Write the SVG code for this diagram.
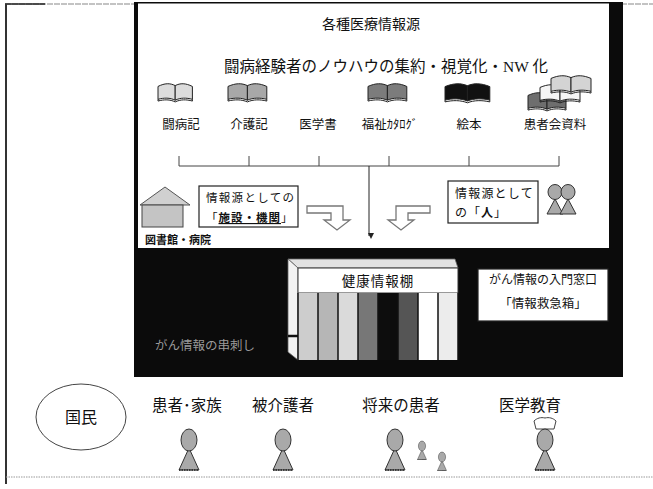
<svg xmlns="http://www.w3.org/2000/svg" width="653" height="489" viewBox="0 0 653 489">
  <style>
    .jp { font-family: "Noto Sans CJK JP", "Noto Sans", sans-serif; fill: #111; }
    .mix { font-family: "Liberation Serif", "Noto Sans CJK JP", serif; fill: #111; }
    .c { text-anchor: middle; }
    .box { fill: #fff; stroke: #222; stroke-width: 1.2; }
    .book { stroke: #222; stroke-width: 1; vector-effect: non-scaling-stroke; stroke-linejoin: round; }
    .conn { fill: none; stroke: #444; stroke-width: 1; }
    .hollow { fill: #fff; stroke: #777; stroke-width: 1.3; stroke-linejoin: miter; }
    .head { fill: #a9a9a9; stroke: #333; stroke-width: 1; }
    .body { fill: #a9a9a9; stroke: #333; stroke-width: 1; }
  </style>
  <defs>
    <!-- open book icon, 40 x 21 units -->
    <g id="openbook">
      <path class="book" d="M0,4 C8,0 14,0 20,3 L20,20 C14,17 7,17 0,19 Z"/>
      <path class="book" d="M20,3 C26,0 32,0 40,4 L40,19 C33,17 26,17 20,20 Z"/>
      <path class="book" fill="none" d="M0,19 L0,21 C7,19 14,19 20,22 C26,19 33,19 40,21 L40,19"/>
    </g>
    <!-- standing person: head over a triangle body -->
    <g id="person">
      <path class="body" d="M0,8 L-10,30 L10,30 Z"/>
      <line x1="-10" y1="30" x2="10" y2="30" stroke="#222" stroke-width="1.5" stroke-dasharray="1.5,1"/>
      <ellipse class="head" cx="0" cy="0" rx="8" ry="11"/>
    </g>
    <marker id="arrowDown" markerWidth="6" markerHeight="6" refX="3" refY="5" orient="auto-start-reverse" markerUnits="userSpaceOnUse" viewBox="0 0 6 6">
      <path d="M0,0 L6,3 L0,6 Z" fill="#222"/>
    </marker>
  </defs>

  <rect x="0" y="0" width="653" height="489" fill="#fff"/>

  <!-- outer frame -->
  <g id="frame">
    <line x1="5" y1="4" x2="653" y2="4" stroke="#888" stroke-width="1.2" stroke-dasharray="6,1"/>
    <line x1="5" y1="4" x2="45" y2="4" stroke="#222" stroke-width="1.5"/>
    <line x1="6" y1="4" x2="6" y2="484" stroke="#333" stroke-width="2"/>
    <line x1="6" y1="477" x2="653" y2="477" stroke="#999" stroke-width="1" stroke-dasharray="1.5,1"/>
  </g>

  <!-- dark panel with white upper section -->
  <g id="panel">
    <rect x="134" y="2" width="489" height="375" fill="#0b0b0b"/>
    <rect x="138" y="3.5" width="471" height="244.5" fill="#fff"/>
  </g>

  <!-- headings -->
  <g id="heading">
    <text class="jp c" x="371" y="29" font-size="14">各種医療情報源</text>
    <text class="mix c" x="386" y="72" font-size="15.5">闘病経験者のノウハウの集約・視覚化・NW 化</text>
  </g>

  <!-- information sources -->
  <g id="src-tobyoki">
    <use href="#openbook" transform="translate(158,83) scale(0.86,0.86)" fill="#dcdcdc"/>
    <text class="jp c" x="181" y="129" font-size="12.5">闘病記</text>
  </g>
  <g id="src-kaigoki">
    <use href="#openbook" transform="translate(228,83) scale(0.97,0.86)" fill="#a8a8a8"/>
    <text class="jp c" x="249" y="129" font-size="12.5">介護記</text>
  </g>
  <g id="src-igakusho">
    <text class="jp c" x="318" y="129" font-size="12.5">医学書</text>
  </g>
  <g id="src-catalog">
    <use href="#openbook" transform="translate(368,83) scale(0.97,0.86)" fill="#7c7c7c"/>
    <text class="jp c" x="390" y="129" font-size="12.5">福祉ｶﾀﾛｸﾞ</text>
  </g>
  <g id="src-ehon">
    <use href="#openbook" transform="translate(445,83) scale(1.12,0.9)" fill="#111"/>
    <text class="jp c" x="469" y="129" font-size="12.5">絵本</text>
  </g>
  <g id="src-kanjakai">
    <use href="#openbook" transform="translate(528,92) scale(0.95,0.86)" fill="#6e6e6e"/>
    <use href="#openbook" transform="translate(540,84) scale(1,0.86)" fill="#f4f4f4"/>
    <use href="#openbook" transform="translate(551,75) scale(1,0.86)" fill="#d4d4d4"/>
    <text class="jp c" x="555" y="129" font-size="12.5">患者会資料</text>
  </g>

  <!-- facility / library -->
  <g id="facility">
    <path d="M140,205 L165,187 L190,205 Z" fill="#d0d0d0" stroke="#555" stroke-width="1"/>
    <rect x="142" y="205" width="41" height="22" fill="#c4c4c4" stroke="#444" stroke-width="1"/>
    <text class="jp" x="145" y="244" font-size="11" font-weight="bold">図書館・病院</text>
  </g>
  <g id="box-facility">
    <rect class="box" x="199" y="186" width="99" height="41"/>
    <text class="jp" x="206" y="202" font-size="11.5" letter-spacing="1.3">情報源としての</text>
    <text class="jp" x="206" y="222" font-size="11.5" letter-spacing="1">「<tspan font-weight="bold" text-decoration="underline">施設・機関</tspan>」</text>
  </g>
  <g id="box-person">
    <rect class="box" x="448" y="181" width="90" height="42"/>
    <text class="jp" x="455" y="198" font-size="12" letter-spacing="1.2">情報源として</text>
    <text class="jp" x="455" y="217" font-size="12" letter-spacing="1">の「<tspan font-weight="bold">人</tspan>」</text>
  </g>
  <g id="people-pair">
    <path class="body" d="M555,199 L547,214 L563,214 Z"/>
    <path class="body" d="M568,199 L560,214 L576,214 Z"/>
    <ellipse class="head" cx="555" cy="192" rx="7" ry="7.5"/>
    <ellipse class="head" cx="568" cy="192" rx="7" ry="7.5"/>
  </g>

  <!-- connectors -->
  <g id="connectors">
    <path class="conn" d="M179,156 V166 H559 V156 M249,156 V166 M319,156 V166 M389,156 V166 M469,156 V166"/>
    <line x1="369" y1="166" x2="369" y2="236" stroke="#222" stroke-width="1" marker-end="url(#arrowDown)"/>
    <path class="hollow" d="M307,206 H343 V220 H350 L337,230 L324,220 H331 V213 H307 Z"/>
    <path class="hollow" d="M430,206 V213 H408 V220 H414 L401,230 L388,220 H396 V206 Z"/>
  </g>

  <!-- health information shelf -->
  <g id="shelf">
    <path d="M288,259 L455,259 L458,268 L298,268 Z" fill="#e2e2e2" stroke="#666" stroke-width="0.8"/>
    <path d="M288,259 L298,268 L298,360 L288,352 Z" fill="#f2f2f2" stroke="#666" stroke-width="0.8"/>
    <line x1="288" y1="336" x2="298" y2="336" stroke="#111" stroke-width="2.5"/>
    <rect x="298" y="268" width="160" height="25" fill="#fff" stroke="#333" stroke-width="1"/>
    <text class="jp c" x="378" y="286" font-size="13.5" letter-spacing="1">健康情報棚</text>
    <rect x="298" y="293" width="20" height="67" fill="#cdcdcd"/>
    <rect x="318" y="293" width="20" height="67" fill="#b6b6b6"/>
    <rect x="338" y="293" width="20" height="67" fill="#dadada"/>
    <rect x="358" y="293" width="20" height="67" fill="#777"/>
    <rect x="378" y="293" width="20" height="67" fill="#0d0d0d"/>
    <rect x="398" y="293" width="20" height="67" fill="#555"/>
    <rect x="418" y="293" width="20" height="67" fill="#fff"/>
    <rect x="438" y="293" width="20" height="67" fill="#ececec"/>
    <path d="M298,293 V360 M318,293 V360 M338,293 V360 M358,293 V360 M378,293 V360 M398,293 V360 M418,293 V360 M438,293 V360 M458,293 V360" stroke="#111" stroke-width="1.5"/>
  </g>
  <g id="skewer-label">
    <text class="jp" x="155" y="350" font-size="12.5" style="fill:#9a9a9a">がん情報の串刺し</text>
  </g>
  <g id="box-firstaid">
    <rect class="box" x="478" y="269" width="130" height="52"/>
    <text class="jp c" x="543" y="284" font-size="12">がん情報の入門窓口</text>
    <text class="jp c" x="543" y="308" font-size="12.5">「情報救急箱」</text>
  </g>

  <!-- citizens -->
  <g id="kokumin">
    <ellipse cx="81" cy="417" rx="45" ry="33" fill="#fff" stroke="#444" stroke-width="1"/>
    <text class="jp c" x="81" y="423" font-size="16">国民</text>
  </g>
  <g id="patients-family">
    <text class="jp c" x="187" y="411" font-size="15.5">患者･家族</text>
    <use href="#person" transform="translate(189,440)"/>
  </g>
  <g id="care-receivers">
    <text class="jp c" x="283" y="411" font-size="15.5">被介護者</text>
    <use href="#person" transform="translate(283,440)"/>
  </g>
  <g id="future-patients">
    <text class="jp c" x="401" y="411" font-size="15.5">将来の患者</text>
    <use href="#person" transform="translate(395,440)"/>
    <use href="#person" transform="translate(422,446) scale(0.45)"/>
    <use href="#person" transform="translate(442,457) scale(0.45)"/>
  </g>
  <g id="medical-education">
    <text class="jp c" x="530" y="411" font-size="15.5">医学教育</text>
    <path d="M536,429 L534,421 C537,418 541,417 545,418 C549,417 553,418 556,421 L554,429 Z" fill="#fff" stroke="#444" stroke-width="1"/>
    <use href="#person" transform="translate(545,440)"/>
  </g>
</svg>
